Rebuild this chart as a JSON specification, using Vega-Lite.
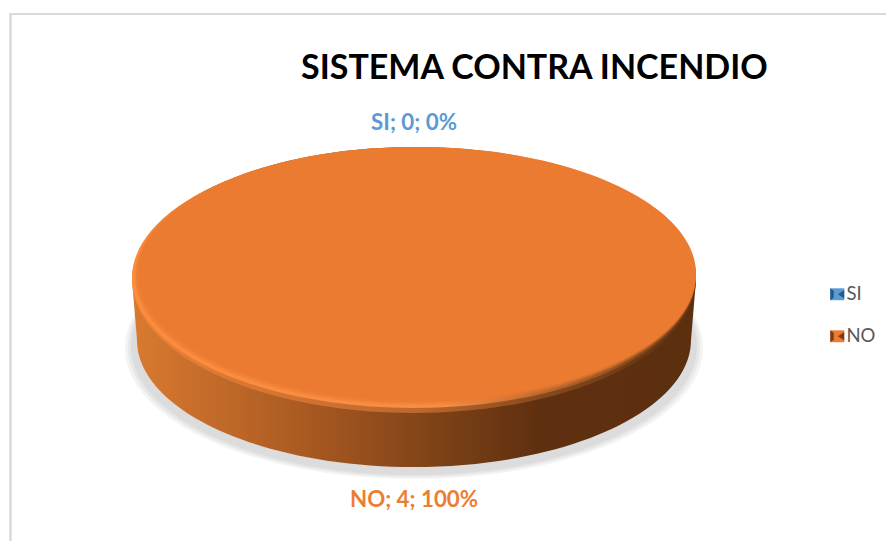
{
"$schema":"https://vega.github.io/schema/vega-lite/v6.json",
"width":808,"height":528,
"autosize":{"type":"none"},
"padding":{"left":10,"top":13,"right":68,"bottom":0},
"background":"white",
"view":{"stroke":null},
"config":{"font":"Lato"},
"title":{"text":"SISTEMA CONTRA INCENDIO","anchor":"start","frame":"group","dx":291,"offset":-74,"fontSize":34,"font":"Lato","fontWeight":"bold","color":"#000000"},
"data":{"values":[
{"category":"SI","value":0,"percent":0,"label":"SI; 0; 0%"},
{"category":"NO","value":4,"percent":100,"label":"NO; 4; 100%"}
]},
"layer":[
{"mark":{"type":"rule","stroke":"#d9d9d9","strokeWidth":2},"encoding":{"x":{"value":0.5},"y":{"value":0},"y2":{"value":528}}},
{"mark":{"type":"rule","stroke":"#d9d9d9","strokeWidth":2},"encoding":{"y":{"value":1},"x":{"value":0},"x2":{"value":876}}},
{"transform":[{"filter":"datum.value>0"}],"mark":{"type":"point","filled":true,"opacity":0.12,"size":4,"fill":"#a0a0a0","shape":"M-289,71 A289,131 0 1 0 289,71 A289,131 0 1 0 -289,71Z"}},
{"transform":[{"filter":"datum.value>0"}],"mark":{"type":"point","filled":true,"opacity":0.14,"size":4,"fill":"#a0a0a0","shape":"M-286,70 A286,130 0 1 0 286,70 A286,130 0 1 0 -286,70Z"}},
{"transform":[{"filter":"datum.value>0"}],"mark":{"type":"point","filled":true,"opacity":0.16,"size":4,"fill":"#a0a0a0","shape":"M-283,69 A283,129 0 1 0 283,69 A283,129 0 1 0 -283,69Z"}},
{"transform":[{"filter":"datum.value>0"}],"mark":{"type":"point","filled":true,"opacity":1,"size":4,"shape":"M-282,3 L-277,63 A277,127 0 0 0 277,63 L282,3 A282,133 0 0 0 -282,3Z","fill":{"gradient":"linear","x1":0,"y1":0,"x2":1,"y2":0,"stops":[{"offset":0,"color":"#d97a30"},{"offset":0.3,"color":"#ab5a22"},{"offset":0.6,"color":"#733c14"},{"offset":0.72,"color":"#5f3010"},{"offset":1,"color":"#5c2f0f"}]}}},
{"transform":[{"filter":"datum.value>0"}],"mark":{"type":"point","filled":true,"opacity":0.5,"size":4,"shape":"M-282,3 A282,133 0 1 0 282,3 A282,133 0 1 0 -282,3Z","fill":{"gradient":"linear","x1":0,"y1":0,"x2":1,"y2":0,"stops":[{"offset":0,"color":"#f98a3a"},{"offset":0.5,"color":"#f88b44"},{"offset":0.7,"color":"#b9682c"},{"offset":0.9,"color":"#7a4319"},{"offset":1,"color":"#5c2f0f"}]}}},
{"transform":[{"filter":"datum.value>0"}],"mark":{"type":"point","filled":true,"opacity":1,"size":4,"shape":"M-282,1 A282,130 0 1 0 282,1 A282,130 0 1 0 -282,1Z","fill":{"gradient":"linear","x1":0,"y1":0,"x2":1,"y2":0,"stops":[{"offset":0,"color":"#fb8c3c"},{"offset":0.55,"color":"#f98d46"},{"offset":0.72,"color":"#c06c2e"},{"offset":0.9,"color":"#844a1c"},{"offset":1,"color":"#6a3814"}]}}},
{"transform":[{"filter":"datum.value>0"}],"mark":{"type":"point","filled":true,"opacity":0.4,"size":4,"fill":"#ea7b30","shape":"M-279,-1 A280.5,129 0 1 0 282,-1 A280.5,129 0 1 0 -279,-1Z"}},
{"transform":[{"filter":"datum.value>0"}],"mark":{"type":"point","filled":true,"opacity":0.6,"size":4,"fill":"#ea7b30","shape":"M-278,-2 A280,128 0 1 0 282,-2 A280,128 0 1 0 -278,-2Z"}},
{"transform":[{"filter":"datum.value>0"}],"mark":{"type":"point","filled":true,"opacity":1,"size":4,"shape":"M-276,-3 A279,127 0 1 0 282,-3 A279,127 0 1 0 -276,-3Z"},
"encoding":{"color":{"field":"category","type":"nominal","scale":{"domain":["SI","NO"],"range":["#5b9bd5","#ea7b30"]},"legend":{"title":null,"orient":"none","legendX":818,"legendY":272,"symbolType":"M-1,-0.85H1V0.85H-1Z","symbolSize":196,"labelFontSize":18.5,"labelColor":"#595959","labelFont":"Lato","labelOffset":0,"rowPadding":23,"padding":0,"symbolOpacity":1}}}},
{"mark":{"type":"point","filled":true,"size":0},
"encoding":{"fill":{"field":"category","type":"nominal","sort":null,"scale":{"range":["#1f4e79","#6b3410"]},"legend":{"title":null,"orient":"none","legendX":818,"legendY":272,"symbolType":"M1,-0.6V0.6L0.1,0ZM-1,-0.85L-0.5,-0.5V0.5L-1,0.85Z","symbolSize":196,"labelExpr":"''","labelFontSize":18.5,"labelOffset":0,"rowPadding":23,"padding":0,"symbolOpacity":0.85}}}},
{"transform":[{"filter":"datum.category=='SI'"}],"mark":{"type":"text","dy":-154,"fontSize":22.3,"fontWeight":"bold","font":"Lato","fill":"#5b9bd5"},"encoding":{"text":{"field":"label"}}},
{"transform":[{"filter":"datum.category=='NO'"}],"mark":{"type":"text","dy":223,"fontSize":22.3,"fontWeight":"bold","font":"Lato","fill":"#ed7d31"},"encoding":{"text":{"field":"label"}}}
]
}
